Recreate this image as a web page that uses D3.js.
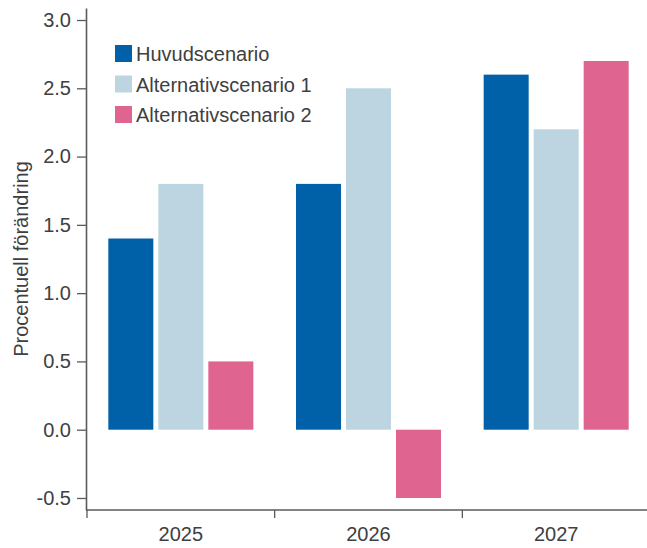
<!DOCTYPE html>
<html>
<head>
<meta charset="utf-8">
<script src="https://cdn.jsdelivr.net/npm/d3@7"></script>
<style>
  html, body { margin: 0; padding: 0; background: #fff; }
  svg { display: block; font-family: "Liberation Sans", Arial, sans-serif; }
</style>
</head>
<body>
<svg id="chart" width="647" height="548"></svg>
<script>
// Years on the category axis
const years = ["2025", "2026", "2027"];
// Scenario names and colours
const scenarios = ["Huvudscenario", "Alternativscenario 1", "Alternativscenario 2"];
const colors = ["#0060a8", "#bdd5e0", "#e06490"];
// Percent change per scenario, one value per year
const huvud = [1.4, 1.8, 2.6];
const alt1 = [1.8, 2.5, 2.2];
const alt2 = [0.5, -0.5, 2.7];
// Value-axis ticks
const yTicks = [-0.5, 0.0, 0.5, 1.0, 1.5, 2.0, 2.5, 3.0];
const yTitle = "Procentuell förändring";

const seriesValues = [huvud, alt1, alt2];
const rows = years.map((yr, i) => ({
  year: yr,
  values: scenarios.map((s, j) => ({ key: s, value: seriesValues[j][i], color: colors[j] }))
}));

const svg = d3.select("#chart");
const textColor = "#404040";
const axisColor = "#5a5a5a";

const y = d3.scaleLinear().domain([-0.588, 3.088]).range([510, 8]);
const x0 = d3.scaleBand().domain(years).range([87, 650]).paddingInner(0).paddingOuter(0);
const bw = x0.bandwidth();
const x1 = d3.scaleBand().domain(scenarios)
  .range([bw / 2 - 72.5, bw / 2 + 72.5]).paddingInner(0.1).paddingOuter(0);

// Bars
const groups = svg.append("g").selectAll("g").data(rows).join("g")
  .attr("transform", d => `translate(${x0(d.year)},0)`);
groups.selectAll("rect").data(d => d.values).join("rect")
  .attr("x", d => x1(d.key))
  .attr("width", x1.bandwidth())
  .attr("y", d => y(Math.max(0, d.value)))
  .attr("height", d => Math.abs(y(d.value) - y(0)))
  .attr("fill", d => d.color);

// Y axis (plain hyphen for negative numbers)
const fmt = v => v.toFixed(1);
const yAxis = svg.append("g").attr("transform", "translate(86,0)")
  .call(d3.axisLeft(y).tickValues(yTicks).tickFormat(fmt)
    .tickSize(9).tickSizeOuter(0).tickPadding(6));
yAxis.select(".domain").attr("stroke", axisColor).attr("stroke-width", 1.6);
yAxis.selectAll(".tick line").attr("stroke", axisColor).attr("stroke-width", 1.3);
yAxis.selectAll(".tick text").attr("fill", textColor).attr("font-size", 20)
  .attr("font-family", "Liberation Sans, Arial, sans-serif");

// X axis: boundaries as tick marks, year labels centred in each band
const xg = svg.append("g");
xg.append("line").attr("x1", 86).attr("x2", 647).attr("y1", 510).attr("y2", 510)
  .attr("stroke", axisColor).attr("stroke-width", 1.6);
const bounds = years.map(d => x0(d)).concat([x0(years[years.length - 1]) + bw]);
xg.selectAll("line.tk").data(bounds).join("line").attr("class", "tk")
  .attr("x1", d => d).attr("x2", d => d).attr("y1", 510).attr("y2", 518)
  .attr("stroke", axisColor).attr("stroke-width", 1.3);
xg.selectAll("text").data(years).join("text")
  .attr("x", d => x0(d) + bw / 2).attr("y", 541)
  .attr("text-anchor", "middle").attr("font-size", 20).attr("fill", textColor)
  .text(d => d);

// Y axis title
svg.append("text")
  .attr("transform", "translate(28,259) rotate(-90)")
  .attr("text-anchor", "middle").attr("font-size", 20).attr("fill", textColor)
  .text(yTitle);

// Legend
const legend = svg.append("g").selectAll("g").data(scenarios).join("g")
  .attr("transform", (d, i) => `translate(115,${45 + i * 30.5})`);
legend.append("rect").attr("width", 17).attr("height", 17)
  .attr("fill", (d, i) => colors[i]);
legend.append("text").attr("x", 21).attr("y", 16)
  .attr("font-size", 20).attr("fill", textColor).text(d => d);
</script>
</body>
</html>
